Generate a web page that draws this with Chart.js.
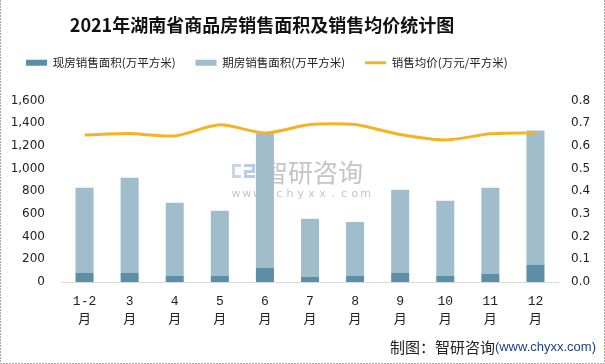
<!DOCTYPE html>
<html>
<head>
<meta charset="utf-8">
<script src="https://cdn.jsdelivr.net/npm/chart.js@4/dist/chart.umd.min.js"></script>
<style>
html,body{margin:0;padding:0;background:#fff;}
#wrap{width:605px;height:364px;position:relative;}
</style>
</head>
<body>
<div id="wrap"><canvas id="c" width="605" height="364"></canvas></div>
<script>
const months = ['1-2', '3', '4', '5', '6', '7', '8', '9', '10', '11', '12'];
const xianfangArea = [80, 80, 53, 53, 124, 44, 53, 80, 53, 71, 150];
const qifangArea = [751, 839, 645, 575, 1187, 513, 477, 733, 663, 760, 1185];
const avgPrice = [0.648, 0.654, 0.644, 0.693, 0.657, 0.694, 0.694, 0.650, 0.626, 0.653, 0.657];
const leftTicksMax = 1600;
const rightTicksMax = 0.8;

const titleText = '2021年湖南省商品房销售面积及销售均价统计图';
const seriesNames = ['现房销售面积(万平方米)', '期房销售面积(万平方米)', '销售均价(万元/平方米)'];

const COL_DARK = '#5C8FA7';
const COL_LIGHT = '#9FBDCA';
const COL_LINE = '#F5B324';

const decor = {
  id: 'decor',
  beforeDatasetsDraw(chart) {
    const ctx = chart.ctx;
    ctx.save();
    ctx.fillStyle = '#c9d5e6';
    ctx.fillRect(232, 164, 9, 3);
    ctx.fillRect(232, 164, 3, 14);
    ctx.fillRect(232, 175, 9, 3);
    ctx.fillStyle = '#b9cce6';
    ctx.fillRect(244, 164, 11, 3);
    ctx.fillRect(252, 164, 3, 8);
    ctx.fillRect(244, 170, 11, 3);
    ctx.fillRect(244, 170, 3, 8);
    ctx.fillRect(244, 175, 11, 3);
    ctx.fillStyle = '#c4c4c4';
    ctx.font = '25px "Noto Sans CJK SC"';
    ctx.textBaseline = 'middle';
    ctx.textAlign = 'left';
    ctx.fillText('智研咨询', 263, 172);
    ctx.font = '11px "DejaVu Sans"';
    ctx.textAlign = 'center';
    const s = 'www.chyxx.com';
    for (let i = 0; i < s.length; i++) {
      ctx.fillText(s[i], 236 + i * 10.8, 194);
    }
    ctx.restore();
  },
  afterDraw(chart) {
    const ctx = chart.ctx;
    ctx.save();
    ctx.fillStyle = '#111';
    ctx.font = 'bold 18px "Noto Sans CJK SC"';
    ctx.textAlign = 'center';
    ctx.textBaseline = 'middle';
    ctx.fillText(titleText, 262, 25);
    ctx.textAlign = 'right';
    ctx.font = '13px "Liberation Sans"';
    ctx.fillStyle = '#1f3f8f';
    const url = '(www.chyxx.com)';
    ctx.fillText(url, 596, 347);
    const w = ctx.measureText(url).width;
    ctx.font = '15px "Noto Sans CJK SC"';
    ctx.fillStyle = '#222';
    ctx.fillText('制图：智研咨询', 596 - w, 347);
    ctx.strokeStyle = '#a8a8a8';
    ctx.lineWidth = 1;
    ctx.setLineDash([2, 1]);
    ctx.beginPath();
    ctx.moveTo(0.5, 0); ctx.lineTo(0.5, 363.5);
    ctx.lineTo(604.5, 363.5); ctx.lineTo(604.5, 0);
    ctx.stroke();
    ctx.restore();
  }
};

new Chart(document.getElementById('c'), {
  type: 'bar',
  data: {
    labels: months.map(m => [m, '月']),
    datasets: [
      { label: seriesNames[0], data: xianfangArea, backgroundColor: COL_DARK, yAxisID: 'y', stack: 's', order: 0,
        barPercentage: 0.4, categoryPercentage: 1.0 },
      { label: seriesNames[1], data: qifangArea, backgroundColor: COL_LIGHT, yAxisID: 'y', stack: 's', order: 0,
        barPercentage: 0.4, categoryPercentage: 1.0 },
      { type: 'line', label: seriesNames[2], data: avgPrice, borderColor: COL_LINE, backgroundColor: COL_LINE,
        borderWidth: 3, pointRadius: 0, tension: 0.25, yAxisID: 'y1', order: -1 }
    ]
  },
  options: {
    responsive: false,
    animation: false,
    devicePixelRatio: 1,
    layout: { padding: { left: 6, top: 37, right: 0, bottom: 0 } },
    plugins: {
      tooltip: { enabled: false },
      title: { display: false },
      legend: {
        display: true,
        position: 'top',
        align: 'start',
        labels: {
          font: { family: '"Noto Sans CJK SC"', size: 11.5 },
          color: '#222',
          usePointStyle: true,
          pointStyleWidth: 21,
          boxHeight: 6,
          padding: 20,
          generateLabels(chart) {
            return chart.data.datasets.map((ds, i) => ({
              text: ds.label,
              fillStyle: ds.type === 'line' ? ds.borderColor : ds.backgroundColor,
              strokeStyle: ds.type === 'line' ? ds.borderColor : ds.backgroundColor,
              lineWidth: ds.type === 'line' ? 3 : 0,
              pointStyle: ds.type === 'line' ? 'line' : 'rect',
              fontColor: '#222',
              hidden: false,
              datasetIndex: i
            }));
          }
        }
      }
    },
    scales: {
      x: {
        stacked: true,
        grid: { display: false, drawTicks: false },
        border: { display: true, color: '#d9d9d9', width: 1 },
        ticks: {
          color: '#222',
          font: { family: '"Liberation Mono", "Noto Sans CJK SC"', size: 13, lineHeight: 1.4 },
          padding: 10,
          maxRotation: 0,
          autoSkip: false
        },
        afterFit(s) { s.height = 82; }
      },
      xTop: {
        type: 'category',
        position: 'top',
        display: true,
        grid: { display: false, drawTicks: false },
        border: { display: false },
        ticks: { display: false },
        afterFit(s) { s.height = 22; }
      },
      y: {
        stacked: true,
        position: 'left',
        min: 0,
        max: leftTicksMax,
        grid: { display: false, drawTicks: false },
        border: { display: false },
        ticks: {
          stepSize: 200,
          color: '#222',
          font: { family: '"DejaVu Sans"', size: 12 },
          padding: 17,
          callback: v => v.toLocaleString('en-US')
        },
        afterFit(s) { s.width = 56; }
      },
      y1: {
        position: 'right',
        min: 0,
        max: rightTicksMax,
        grid: { display: false, drawTicks: false },
        border: { display: false },
        ticks: {
          stepSize: 0.1,
          color: '#222',
          font: { family: '"DejaVu Sans"', size: 12 },
          padding: 13,
          callback: v => Number(v).toFixed(1)
        },
        afterFit(s) { s.width = 47; }
      }
    }
  },
  plugins: [decor]
});
</script>
</body>
</html>
